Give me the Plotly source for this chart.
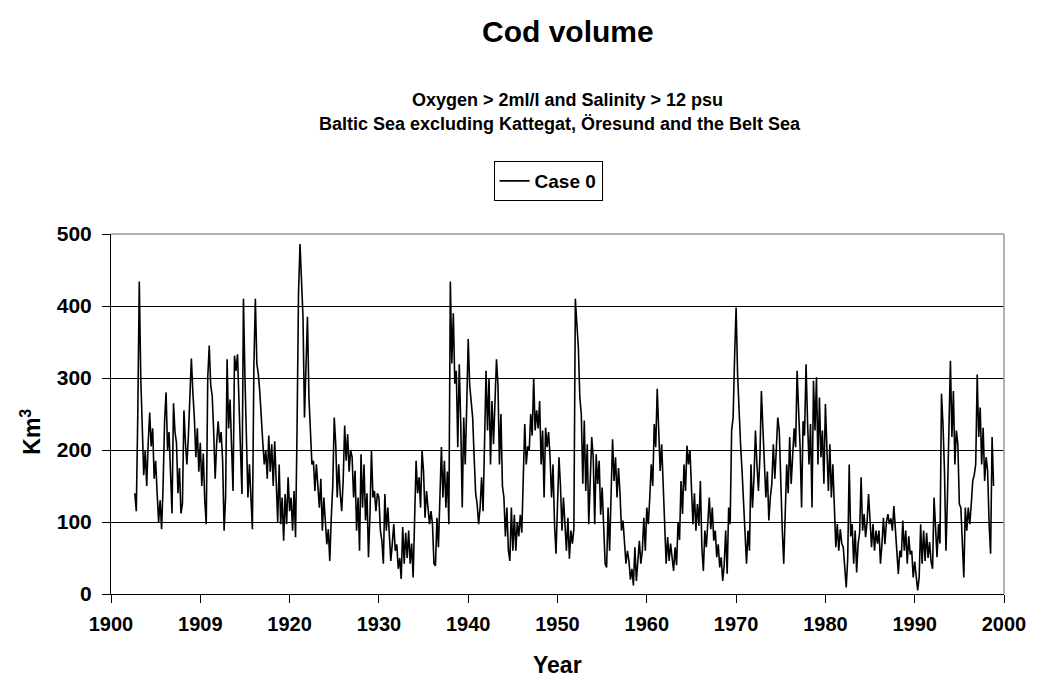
import plotly.graph_objects as go

# Cod volume readings (Km3), one value every two months, starting at 1902 + 4/6
start_year = 1902 + 4 / 6
step_years = 1 / 6

v1900s = [140, 115,
          250, 434, 300, 215, 165, 200,   # 1903
          150, 210, 252, 205, 230, 160,   # 1904
          185, 140, 100, 130, 90, 150,    # 1905
          240, 280, 200, 225, 150, 112,   # 1906
          265, 225, 210, 140, 175, 112,   # 1907
          125, 255, 210, 180, 220, 275,   # 1908
          327, 280, 245, 190, 230, 170]   # 1909
v1910s = [210, 150, 195, 130, 97, 300,    # 1910
          345, 290, 275, 225, 160, 210,   # 1911
          240, 210, 225, 185, 88, 135,    # 1912
          326, 230, 270, 205, 143, 331,   # 1913
          310, 333, 250, 200, 139, 410,   # 1914
          300, 220, 134, 180, 120, 90,    # 1915
          315, 410, 320, 305, 280, 236,   # 1916
          210, 180, 200, 160, 220, 170,   # 1917
          208, 150, 212, 157, 100, 180,   # 1918
          97, 134, 74, 139, 97, 162]      # 1919
v1920s = [115, 134, 88, 143, 79, 227,     # 1920
          419, 486, 444, 385, 245, 310,   # 1921
          385, 273, 227, 180, 185, 143,   # 1922
          180, 143, 120, 160, 88, 134,    # 1923
          97, 69, 90, 46, 106, 150,       # 1924
          245, 208, 134, 180, 140, 115,   # 1925
          157, 234, 185, 222, 170, 200,   # 1926
          190, 134, 171, 88, 134, 60,     # 1927
          194, 120, 180, 102, 140, 51,    # 1928
          110, 200, 134, 143, 115, 140]   # 1929
v1930s = [134, 88, 74, 42, 139, 88,       # 1930
          120, 79, 46, 70, 97, 60,        # 1931
          69, 35, 50, 21, 93, 42,         # 1932
          85, 50, 88, 42, 70, 23,         # 1933
          120, 185, 140, 162, 120, 199,   # 1934
          170, 106, 143, 115, 97, 115,    # 1935
          97, 42, 39, 106, 65, 134,       # 1936
          204, 134, 185, 120, 170, 97,    # 1937
          434, 320, 390, 292, 310, 204,   # 1938
          319, 236, 120, 245, 180, 260]   # 1939
v1940s = [354, 290, 268, 245, 190, 140,   # 1940
          125, 97, 120, 162, 115, 227,    # 1941
          310, 227, 300, 180, 268, 208,   # 1942
          273, 326, 290, 180, 250, 150,   # 1943
          134, 80, 120, 60, 46, 120,      # 1944
          60, 110, 60, 100, 80, 110,      # 1945
          85, 150, 236, 180, 205, 199,    # 1946
          250, 220, 300, 227, 255, 230,   # 1947
          268, 180, 227, 134, 231, 204,   # 1948
          225, 190, 134, 180, 97, 56]     # 1949
v1950s = [143, 190, 150, 88, 134, 95,     # 1950
          60, 106, 49, 88, 70, 90,        # 1951
          410, 375, 343, 273, 250, 153,   # 1952
          241, 143, 208, 97, 150, 218,    # 1953
          190, 97, 194, 153, 185, 110,    # 1954
          148, 97, 42, 37, 120, 60,       # 1955
          130, 215, 157, 190, 134, 175,   # 1956
          140, 88, 102, 74, 42, 60,       # 1957
          46, 20, 35, 12, 65, 18,         # 1958
          50, 74, 42, 60, 106, 60]        # 1959
v1960s = [120, 97, 134, 180, 150, 236,    # 1960
          204, 285, 227, 171, 208, 153,   # 1961
          116, 42, 79, 46, 70, 50,        # 1962
          32, 65, 40, 100, 75, 157,       # 1963
          111, 180, 143, 206, 180, 200,   # 1964
          157, 97, 140, 88, 125, 95,      # 1965
          157, 65, 32, 88, 65, 97,        # 1966
          134, 90, 120, 74, 88, 51,       # 1967
          69, 37, 51, 18, 40, 88,         # 1968
          28, 120, 97, 227, 245, 330]     # 1969
v1970s = [398, 305, 245, 208, 171, 120,   # 1970
          83, 42, 88, 60, 180, 120,       # 1971
          160, 227, 180, 143, 190, 282,   # 1972
          230, 180, 134, 170, 102, 134,   # 1973
          153, 208, 160, 200, 245, 227,   # 1974
          143, 90, 42, 102, 180, 140,     # 1975
          218, 153, 200, 230, 204, 310,   # 1976
          255, 204, 120, 240, 220, 319,   # 1977
          240, 180, 236, 120, 296, 227,   # 1978
          301, 180, 273, 190, 227, 153]   # 1979
v1980s = [264, 204, 143, 208, 134, 180,   # 1980
          111, 65, 97, 60, 90, 70,        # 1981
          65, 30, 9, 50, 180, 80,         # 1982
          97, 42, 88, 30, 70, 85,         # 1983
          162, 88, 111, 79, 100, 139,     # 1984
          95, 65, 97, 60, 88, 70,         # 1985
          88, 42, 70, 106, 69, 100,       # 1986
          111, 97, 105, 88, 122, 95,      # 1987
          65, 28, 60, 51, 102, 60,        # 1988
          88, 42, 80, 55, 60, 23]         # 1989
v1990s = [45, 20, 5, 23, 97, 42,          # 1990
          88, 46, 85, 50, 72, 45,         # 1991
          35, 134, 88, 51, 97, 70,        # 1992
          278, 236, 171, 60, 134, 218,    # 1993
          324, 218, 282, 180, 227, 208,   # 1994
          125, 120, 60, 23, 120, 88,      # 1995
          120, 97, 125, 157, 165, 180,    # 1996
          305, 218, 259, 180, 231, 157,   # 1997
          190, 171, 97, 56, 218, 150]     # 1998

x_tick_vals = [1900, 1910, 1920, 1930, 1940, 1950, 1960, 1970, 1980, 1990, 2000]
x_tick_text = ["1900", "1909", "1920", "1930", "1940", "1950", "1960", "1970", "1980", "1990", "2000"]
y_tick_vals = [0, 100, 200, 300, 400, 500]

values = v1900s + v1910s + v1920s + v1930s + v1940s + v1950s + v1960s + v1970s + v1980s + v1990s
years = [start_year + step_years * i for i in range(len(values))]

FONT = "Liberation Sans, Arial, sans-serif"
W, H = 1038, 677
L, R, T, B = 111, 1012, 234, 594

fig = go.Figure()
fig.add_trace(go.Scatter(x=years, y=values, mode="lines", name="Case 0",
                         line=dict(color="black", width=1.6)))

def px_x(p):
    return (p - L) / (R - L)

def px_y(p):
    return (B - p) / (B - T)

fig.update_layout(
    width=W, height=H,
    margin=dict(l=L, r=W - R, t=T, b=H - B),
    paper_bgcolor="white", plot_bgcolor="white",
    font=dict(family=FONT, color="black"),
    showlegend=True,
    legend=dict(x=px_x(552), y=px_y(161), xanchor="center", yanchor="top",
                xref="paper", yref="paper",
                bordercolor="black", borderwidth=1, bgcolor="white",
                font=dict(size=19, family=FONT, weight="bold"),
                itemwidth=30, tracegroupgap=0),
    xaxis=dict(range=[1900, 2000], tickmode="array", tickvals=x_tick_vals, ticktext=x_tick_text,
               showgrid=False, zeroline=False, showline=True, linecolor="black", linewidth=1,
               ticks="outside", ticklen=8, tickcolor="black", ticklabelstandoff=4,
               tickfont=dict(size=20, family=FONT, weight="bold")),
    yaxis=dict(range=[0, 500], tickmode="array", tickvals=y_tick_vals,
               showgrid=True, gridcolor="black", gridwidth=1, zeroline=False,
               showline=True, linecolor="black", linewidth=1,
               ticks="outside", ticklen=8, tickcolor="black", ticklabelstandoff=6,
               tickfont=dict(size=21, family=FONT, weight="bold")),
    shapes=[
        dict(type="line", xref="paper", yref="paper", x0=0, x1=1, y0=1, y1=1,
             line=dict(color="#999999", width=1.5), layer="above"),
        dict(type="line", xref="paper", yref="paper", x0=1, x1=1, y0=0, y1=1,
             line=dict(color="#999999", width=1.5), layer="above"),
    ],
    annotations=[
        dict(text="Cod volume", xref="paper", yref="paper", x=px_x(572), y=px_y(31),
             xanchor="center", yanchor="middle", showarrow=False,
             font=dict(size=30, family=FONT, weight="bold")),
        dict(text="Oxygen > 2ml/l and Salinity > 12 psu", xref="paper", yref="paper",
             x=px_x(572), y=px_y(100), xanchor="center", yanchor="middle", showarrow=False,
             font=dict(size=18, family=FONT, weight="bold")),
        dict(text="Baltic Sea excluding Kattegat, Öresund and the Belt Sea", xref="paper", yref="paper",
             x=px_x(564), y=px_y(124), xanchor="center", yanchor="middle", showarrow=False,
             font=dict(size=18, family=FONT, weight="bold")),
        dict(text="Km<sup>3</sup>", xref="paper", yref="paper", x=px_x(30), y=px_y(432),
             xanchor="center", yanchor="middle", showarrow=False, textangle=-90,
             font=dict(size=23, family=FONT, weight="bold")),
        dict(text="Year", xref="paper", yref="paper", x=px_x(562), y=px_y(665),
             xanchor="center", yanchor="middle", showarrow=False,
             font=dict(size=23, family=FONT, weight="bold")),
    ],
)

fig.write_html("out.html")
